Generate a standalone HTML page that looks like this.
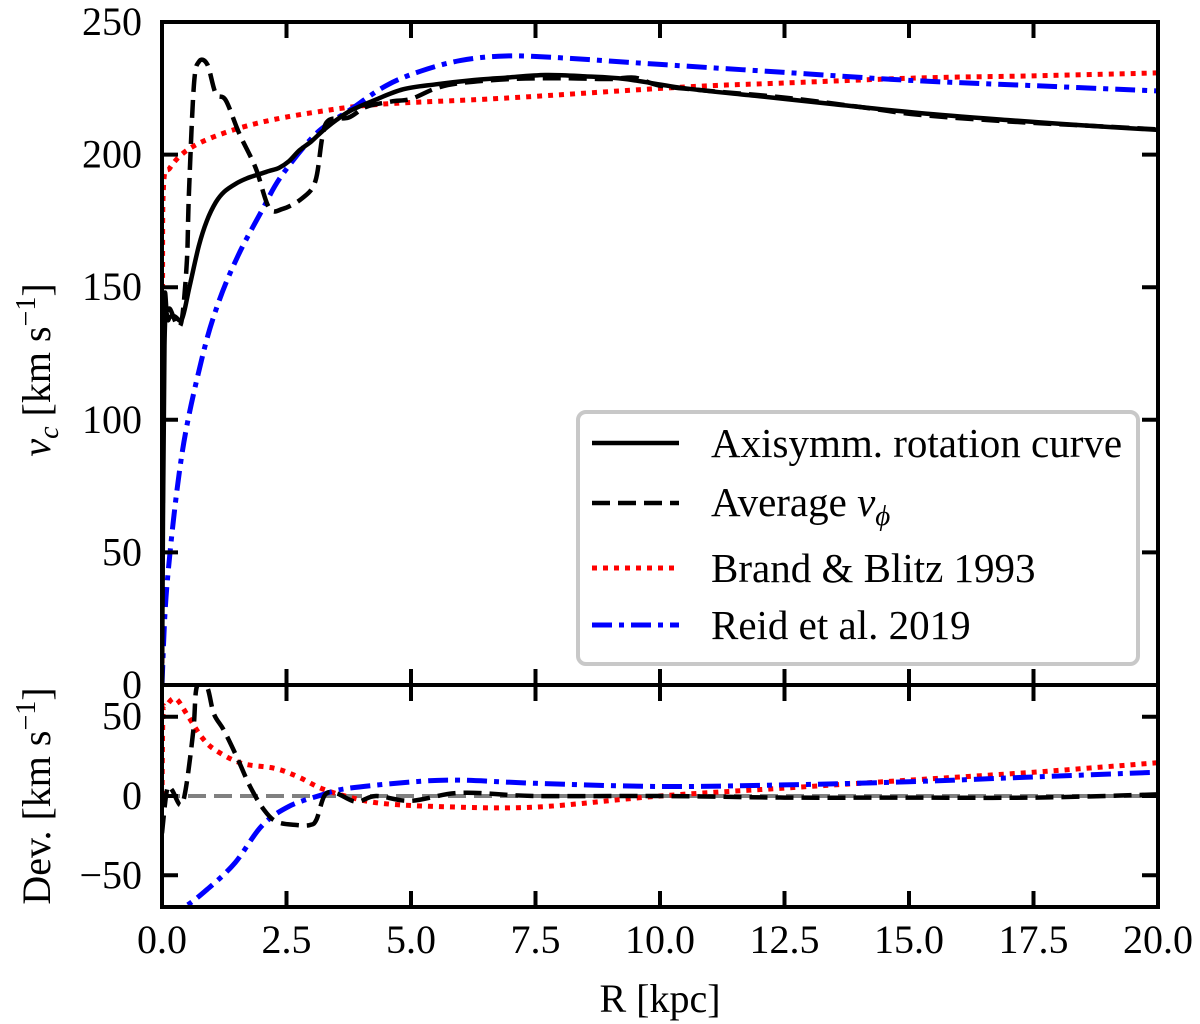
<!DOCTYPE html>
<html><head><meta charset="utf-8"><style>
html,body{margin:0;padding:0;background:#fff;}
svg{display:block;font-family:"Liberation Serif",serif;}
</style></head><body>
<svg id="chart" width="1200" height="1024" viewBox="0 0 1200 1024" xmlns="http://www.w3.org/2000/svg">
<defs>
<clipPath id="clipTop"><rect x="162" y="22" width="996" height="663"/></clipPath>
<clipPath id="clipBot"><rect x="162" y="685" width="996" height="222"/></clipPath>
</defs>
<g id="topLines" clip-path="url(#clipTop)"></g>
<g id="botLines" clip-path="url(#clipBot)"></g>
<g id="axes"></g>
<g>
<rect x="578" y="412" width="560" height="252" rx="8" fill="#fff" stroke="#c8c8c8" stroke-width="4"/>
<line x1="592" y1="443" x2="679" y2="443" stroke="#000" stroke-width="4.5"/>
<text x="711" y="457" font-size="41">Axisymm. rotation curve</text>
<line x1="592" y1="503" x2="679" y2="503" stroke="#000" stroke-width="4.5" stroke-dasharray="18,8"/>
<text x="711" y="516" font-size="41">Average <tspan font-style="italic">v</tspan><tspan font-style="italic" font-size="29" dy="9">ϕ</tspan></text>
<line x1="592" y1="568" x2="679" y2="568" stroke="#ff0000" stroke-width="5" stroke-dasharray="5,6"/>
<text x="711" y="582" font-size="41">Brand &amp; Blitz 1993</text>
<line x1="592" y1="625" x2="679" y2="625" stroke="#0000ff" stroke-width="5" stroke-dasharray="20,7,5,7"/>
<text x="711" y="639" font-size="41">Reid et al. 2019</text>
</g>
<text x="50" y="370" font-size="40" text-anchor="middle" transform="rotate(-90 50 370)"><tspan font-style="italic">v</tspan><tspan font-style="italic" font-size="28" dy="8">c</tspan><tspan dy="-8"> [km s</tspan><tspan font-size="28" dy="-15">−1</tspan><tspan dy="15">]</tspan></text>
<text x="50" y="796" font-size="40" text-anchor="middle" transform="rotate(-90 50 796)">Dev. [km s<tspan font-size="28" dy="-15">−1</tspan><tspan dy="15">]</tspan></text>
<text x="660" y="1012" font-size="40" text-anchor="middle">R [kpc]</text>
</svg>
<script>
// data
const rSolid = [0,0.05,0.13,0.25,0.4,0.55,0.74,0.9,1.08,1.25,1.48,1.7,1.95,2.15,2.35,2.55,2.76,3.0,3.23,3.5,3.77,4.2,4.84,5.5,6.2,6.9,7.7,8.5,9.3,10.5,12,13.5,15.2,17,18.5,20];
const vSolid = [0,128,137.7,139,138,150,165.6,175,182,186,189,191,192.6,193.8,195,197.5,201.6,205,209,213,216.4,220,224.6,226.5,228,229,230,229.5,228.5,225,222,219,215.7,213,211,209.3];
const rDash = [0,0.04,0.1,0.16,0.3,0.4,0.5,0.54,0.64,0.74,0.91,1.08,1.28,1.55,1.88,2.15,2.42,2.82,3.08,3.22,3.35,3.75,4.1,4.6,5,5.5,6,7,8,9,9.5,10,11,12.5,14,15.2,17,18.5,20];
const vDash = [0,137,140,141.8,136,138,160,185,226,235,234,223,220.5,208,195,180,179.5,183.6,190,206.6,213,214,218,220,221,225,227,228.5,228.8,228.5,229,226,224,221.5,218,215,212.5,211,209.5];
const rRed = [0,0.01,0.03,0.16,0.5,1.08,1.95,3.08,4.4,6.9,10.5,12.5,15.2,17.5,20];
const vRed = [0,140,188,195,201.6,207,212,216,219,221.3,225.5,227,228.9,229.7,230.8];
const rBlue = [0,0.1,0.4,0.8,1.13,1.53,2.0,2.4,3.1,3.77,4.5,5.2,6.0,6.9,8,10,12.5,15,17.5,20];
const vBlue = [0,37.7,87,123,144,162,178.7,192,208,216.8,226,231.5,235.5,237.2,236.5,234,231,228,226,224];
// deviations
const rDevDash = [0,0.1,0.2,0.37,0.48,0.63,0.7,0.9,1.04,1.24,1.5,1.77,2.05,2.3,2.7,2.97,3.1,3.27,3.5,3.9,4.3,5,6,7.5,10,12.5,15,17.5,20];
const dDevDash = [-23.5,3.8,3.8,-5.7,5,41.6,69,69,52,41.6,24.8,5.9,-8.8,-16.2,-18.3,-18.3,-15,0.6,1.7,-3.6,0,-3,2,0,0,-1,-1,-1,1];
const rDevRed = [0,0.02,0.07,0.27,0.53,0.8,1.07,1.6,2.27,2.74,3.2,3.73,4.4,5.6,7.5,10,12.5,15,17.5,20];
const dDevRed = [0,52,56,61.5,50,37,29,20.6,17.4,12,4.8,-0.4,-4.6,-6.7,-7,0,5,10,15,21];
const rDevBlue = [0,0.4,0.94,1.47,2.0,2.54,3.2,3.73,5.07,6,7.5,10,12.5,15,17.5,20];
const dDevBlue = [-72,-70.8,-58,-42,-19,-6.7,0.6,4.8,9,10,8,6,7,9,12,15];
const xTicks = [0,2.5,5,7.5,10,12.5,15,17.5,20];
const xTickLabels = ["0.0","2.5","5.0","7.5","10.0","12.5","15.0","17.5","20.0"];
const yTopTicks = [0,50,100,150,200,250];
const yTopTickLabels = ["0","50","100","150","200","250"];
const yBotTicks = [-50,0,50];
const yBotTickLabels = ["−50","0","50"];

const L=162,R=1158,T=22,M=685,B=907,Z=796;
const X = r => L + r*(R-L)/20;
const YT = v => M - v*(M-T)/250;
const YB = d => Z - d*(Z-M)/70;
const NS="http://www.w3.org/2000/svg";

function pathD(xs, ys, fx, fy){
  const p = xs.map((x,i)=>[fx(x),fy(ys[i])]);
  let d = "M"+p[0][0].toFixed(2)+","+p[0][1].toFixed(2);
  for(let i=0;i<p.length-1;i++){
    const p0=p[Math.max(0,i-1)],p1=p[i],p2=p[i+1],p3=p[Math.min(p.length-1,i+2)];
    const c1=[p1[0]+(p2[0]-p0[0])/6,p1[1]+(p2[1]-p0[1])/6];
    const c2=[p2[0]-(p3[0]-p1[0])/6,p2[1]-(p3[1]-p1[1])/6];
    d+=" C"+c1[0].toFixed(2)+","+c1[1].toFixed(2)+" "+c2[0].toFixed(2)+","+c2[1].toFixed(2)+" "+p2[0].toFixed(2)+","+p2[1].toFixed(2);
  }
  return d;
}
function addPath(g, d, color, w, dash, name){
  const el=document.createElementNS(NS,"path");
  el.setAttribute("d",d);el.setAttribute("fill","none");el.setAttribute("stroke",color);
  el.setAttribute("stroke-width",w);if(dash)el.setAttribute("stroke-dasharray",dash);
  el.setAttribute("stroke-linejoin","round");
  
  
  g.appendChild(el);
}
const gT=document.getElementById("topLines"), gB=document.getElementById("botLines"), gA=document.getElementById("axes");
addPath(gT,pathD(rRed,vRed,X,YT),"#ff0000",5,"5,6","brand-blitz-line");
addPath(gT,pathD(rBlue,vBlue,X,YT),"#0000ff",5,"20,7,5,7","reid-line");
addPath(gT,pathD(rDash,vDash,X,YT),"#000",4.5,"18,8","average-vphi-line");
addPath(gT,pathD(rSolid,vSolid,X,YT),"#000",4.5,null,"axisymm-line");
// zero line
const zl=document.createElementNS(NS,"line");
zl.setAttribute("x1",L);zl.setAttribute("x2",R);zl.setAttribute("y1",YB(0));zl.setAttribute("y2",YB(0));
zl.setAttribute("stroke","#808080");zl.setAttribute("stroke-width",4);zl.setAttribute("stroke-dasharray","18,8");


gB.appendChild(zl);
addPath(gB,pathD(rDevRed,dDevRed,X,YB),"#ff0000",5,"5,6","brand-blitz-deviation");
addPath(gB,pathD(rDevBlue,dDevBlue,X,YB),"#0000ff",5,"20,7,5,7","reid-deviation");
addPath(gB,pathD(rDevDash,dDevDash,X,YB),"#000",4.5,"18,8","average-vphi-deviation");

function line(x1,y1,x2,y2,name){
  const l=document.createElementNS(NS,"line");
  l.setAttribute("x1",x1);l.setAttribute("y1",y1);l.setAttribute("x2",x2);l.setAttribute("y2",y2);
  l.setAttribute("stroke","#000");l.setAttribute("stroke-width",4);l.setAttribute("stroke-linecap","square");
  
  
  gA.appendChild(l);
}
function txt(x,y,s,anchor,name){
  const t=document.createElementNS(NS,"text");
  t.setAttribute("x",x);t.setAttribute("y",y);t.setAttribute("font-size",40);t.setAttribute("text-anchor",anchor);
  t.textContent=s;
  
  
  gA.appendChild(t);
}
// frames
line(L,T,R,T,"top-frame");line(L,T,L,B,"left-frame");line(R,T,R,B,"right-frame");
line(L,M,R,M,"panel-divider");line(L,B,R,B,"bottom-frame");
const tl=14;
xTicks.forEach((r,i)=>{
  const x=X(r);
  line(x,T,x,T+tl,"x-tick-top");line(x,M,x,M-tl,"x-tick-top-panel");
  line(x,M,x,M+tl,"x-tick-bottom-panel-top");line(x,B,x,B-tl,"x-tick");
  txt(x,953,xTickLabels[i],"middle","x-tick-label");
});
yTopTicks.forEach((v,i)=>{
  const y=YT(v);
  line(L,y,L+tl,y,"y-tick-top");line(R,y,R-tl,y,"y-tick-top-right");
  txt(142,y+13,yTopTickLabels[i],"end","y-tick-label-top");
});
yBotTicks.forEach((v,i)=>{
  const y=YB(v);
  line(L,y,L+tl,y,"y-tick-bottom");line(R,y,R-tl,y,"y-tick-bottom-right");
  txt(142,y+13,yBotTickLabels[i],"end","y-tick-label-bottom");
});
</script>
</body></html>
